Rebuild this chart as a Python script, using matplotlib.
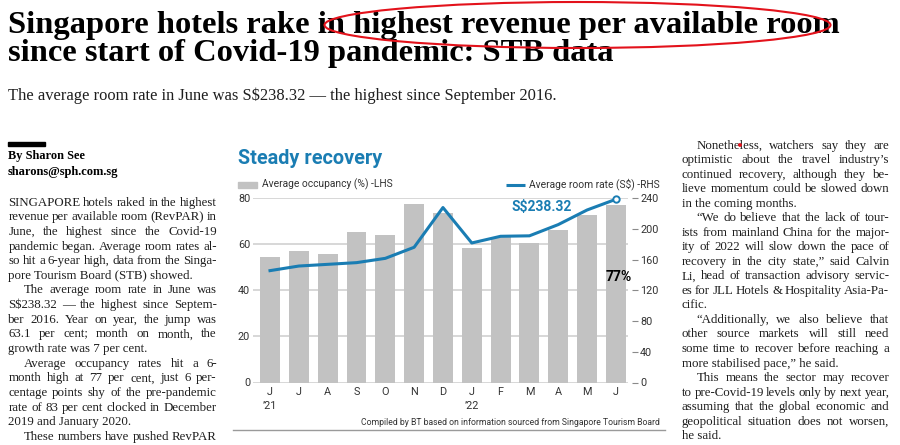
import numpy as np
import matplotlib
matplotlib.use('Agg')
import matplotlib.pyplot as plt
import matplotlib.transforms as mtransforms
from matplotlib.patches import Rectangle, Ellipse, Circle
from matplotlib.lines import Line2D
from matplotlib import font_manager as fm

# ── Chart data ───────────────────────────────────────────────
months = ['J', 'J', 'A', 'S', 'O', 'N', 'D', 'J', 'F', 'M', 'A', 'M', 'J']
year_marks = ['\u201921', '', '', '', '', '', '', '\u201922', '', '', '', '', '']
occupancy = [54.6, 56.9, 55.7, 65.1, 64.1, 77.6, 73.7, 58.3, 63.0, 60.4, 66.3, 72.6, 77.0]
room_rate = [145.5, 151.5, 153.7, 155.9, 161.5, 175.9, 227.6, 181.5, 190.2, 190.8, 205.4, 224.4, 238.32]
occ_ticks = [0, 20, 40, 60, 80]
rate_ticks = [0, 40, 80, 120, 160, 200, 240]

# ── Page text ────────────────────────────────────────────────
headline = ['Singapore hotels rake in highest revenue per available room',
            'since start of Covid-19 pandemic: STB data']
standfirst = 'The average room rate in June was S$238.32 \u2014 the highest since September 2016.'

left_lines = [
    ('SINGAPORE hotels raked in the highest', 0, True),
    ('revenue per available room (RevPAR) in', 0, True),
    ('June, the highest since the Covid-19', 0, True),
    ('pandemic began. Average room rates al-', 0, True),
    ('so hit a 6-year high, data from the Singa-', 0, True),
    ('pore Tourism Board (STB) showed.', 0, False),
    ('The average room rate in June was', 1, True),
    ('S$238.32 \u2014 the highest since Septem-', 0, True),
    ('ber 2016. Year on year, the jump was', 0, True),
    ('63.1 per cent; month on month, the', 0, True),
    ('growth rate was 7 per cent.', 0, False),
    ('Average occupancy rates hit a 6-', 1, True),
    ('month high at 77 per cent, just 6 per-', 0, True),
    ('centage points shy of the pre-pandemic', 0, True),
    ('rate of 83 per cent clocked in December', 0, True),
    ('2019 and January 2020.', 0, False),
    ('These numbers have pushed RevPAR', 1, True),
]
right_lines = [
    ('Nonetheless, watchers say they are', 1, True),
    ('optimistic about the travel industry\u2019s', 0, True),
    ('continued recovery, although they be-', 0, True),
    ('lieve momentum could be slowed down', 0, True),
    ('in the coming months.', 0, False),
    ('\u201cWe do believe that the lack of tour-', 1, True),
    ('ists from mainland China for the major-', 0, True),
    ('ity of 2022 will slow down the pace of', 0, True),
    ('recovery in the city state,\u201d said Calvin', 0, True),
    ('Li, head of transaction advisory servic-', 0, True),
    ('es for JLL Hotels & Hospitality Asia-Pa-', 0, True),
    ('cific.', 0, False),
    ('\u201cAdditionally, we also believe that', 1, True),
    ('other source markets will still need', 0, True),
    ('some time to recover before reaching a', 0, True),
    ('more stabilised pace,\u201d he said.', 0, False),
    ('This means the sector may recover', 1, True),
    ('to pre-Covid-19 levels only by next year,', 0, True),
    ('assuming that the global economic and', 0, True),
    ('geopolitical situation does not worsen,', 0, True),
    ('he said.', 0, False),
]

# ── Style ────────────────────────────────────────────────────
BLUE = '#1a7db3'
BAR_GREY = '#c2c2c2'
GRID = '#cdcdcd'
INK = '#1e1e1e'
AXIS_TXT = '#333333'
RED = '#e3121b'
SANS = 'Roboto'
SERIF = 'Liberation Serif'

W, H = 900, 445
fig = plt.figure(figsize=(W / 100, H / 100), dpi=100)
fig.patch.set_facecolor('white')
# pixel coordinates measured from the top-left corner
PX = mtransforms.Affine2D().scale(1 / W, -1 / H).translate(0, 1) + fig.transFigure
renderer = fig.canvas.get_renderer()

HEAD = fm.FontProperties(family=SERIF, weight='bold')
BODY = fm.FontProperties(family=SERIF, weight='normal')


def ptext(x, y, s, **kw):
    kw.setdefault('parse_math', False)
    if 'fontproperties' in kw:
        kw['fontproperties'] = kw['fontproperties'].copy()
    return fig.text(x, y, s, transform=PX, **kw)


def fit(t, width):
    w = t.get_window_extent(renderer).width
    t.set_fontsize(t.get_fontsize() * width / w)
    return t.get_fontsize()


def width_of(s, props, size):
    t = ptext(0, 0, s, fontproperties=props, fontsize=size)
    w = t.get_window_extent(renderer).width
    t.remove()
    return w


def body_size(lines, colw, indent, props, size, min_gap=2.2):
    # shrink the body size until every justified line fits its column
    scale = 1.0
    for s, ind, just in lines:
        words = s.split(' ')
        if not just or len(words) < 2:
            continue
        ww = sum(width_of(w_, props, size) for w_ in words)
        room = colw - indent * ind - (len(words) - 1) * min_gap
        scale = min(scale, room / ww)
    return size * scale


def column(lines, x0, x1, y0, step, indent, **kw):
    # justified newspaper column, one text per word on full lines
    for i, (s, ind, just) in enumerate(lines):
        y = y0 + i * step
        xs = x0 + indent * ind
        words = s.split(' ')
        if not just or len(words) < 2:
            ptext(xs, y, s, va='center', **kw)
            continue
        arts = [ptext(0, y, w_, va='center', **kw) for w_ in words]
        widths = [a.get_window_extent(renderer).width for a in arts]
        gap = max((x1 - xs - sum(widths)) / (len(words) - 1), 1.5)
        xc = xs
        for a, w_ in zip(arts, widths):
            a.set_x(xc)
            xc += w_ + gap


# ── Headline ────────────────────────────────────────────────
h1 = ptext(8, 33, headline[0], va='baseline', color='black', fontproperties=HEAD)
hsize = fit(h1, 835)
h2 = ptext(8, 61, headline[1], va='baseline', color='black', fontproperties=HEAD)
h2.set_fontsize(hsize)
sf = ptext(8, 100, standfirst, va='baseline', color=INK, fontproperties=BODY, fontsize=11)
fit(sf, 547)

fig.add_artist(Ellipse((577.5, 25), 506, 46, transform=PX, fill=False,
                       edgecolor=RED, lw=1.5, zorder=10))
fig.add_artist(Circle((740, 145), 1.2, transform=PX, color=RED, zorder=10))

# ── Byline and text columns ─────────────────────────────────
fig.add_artist(Rectangle((8, 142), 37, 4, transform=PX, color='black'))
b1 = ptext(8, 156, 'By Sharon See', va='center', fontproperties=HEAD, fontsize=9, color='black')
fit(b1, 77)
b2 = ptext(8, 171.7, 'sharons@sph.com.sg', va='center', fontproperties=HEAD, fontsize=9, color='black')
fit(b2, 111)

bsize = min(body_size(left_lines, 208.4, 15.5, BODY, 9.3),
            body_size(right_lines, 207.6, 15.0, BODY, 9.3))
body = dict(fontproperties=BODY, fontsize=bsize, color=INK)
column(left_lines, 8.3, 216.7, 202.7, 14.63, 15.5, **body)
column(right_lines, 681.7, 889.3, 145.7, 14.52, 15.0, **body)

# ── Chart ───────────────────────────────────────────────────
ttl = ptext(238, 163.5, 'Steady recovery', va='baseline', family=SANS, weight='bold',
            fontsize=13, color=BLUE)
fit(ttl, 144)

fig.add_artist(Rectangle((238.3, 181.7), 18.4, 5.8, transform=PX, color=BAR_GREY))
lg1 = ptext(262.3, 184.6, 'Average occupancy (%) -LHS', va='center', family=SANS,
            fontsize=7.5, color=AXIS_TXT)
fit(lg1, 130)
fig.add_artist(Line2D([506, 525], [184.5, 184.5], transform=PX, color=BLUE, lw=2.2,
                      solid_capstyle='butt'))
lg2 = ptext(529, 184.6, 'Average room rate (S$) -RHS', va='center', family=SANS,
            fontsize=7.5, color=AXIS_TXT)
fit(lg2, 131)

ax = fig.add_axes([253 / W, 1 - 382.5 / H, 375 / W, 184.5 / H])
x = np.arange(len(months))
ax.bar(x, occupancy, width=0.69, color=BAR_GREY, zorder=2)
ax.set_xlim(-0.59, 12.42)
ax.set_ylim(0, 80)
ax.set_yticks(occ_ticks)
ax.set_xticks(x, months)
ax.grid(axis='y', color=GRID, lw=1.1)
ax.set_axisbelow(True)
for s in ax.spines.values():
    s.set_visible(False)
ax.tick_params(axis='y', length=0, pad=2, labelsize=7.8, labelcolor=AXIS_TXT)
ax.tick_params(axis='x', length=0, pad=3.5, labelsize=7.8, labelcolor=AXIS_TXT)
for lab in ax.get_xticklabels() + ax.get_yticklabels():
    lab.set_family(SANS)
for i, yr in enumerate(year_marks):
    if yr:
        ax.text(i, -0.128, yr, transform=ax.get_xaxis_transform(), ha='center', va='center',
                family=SANS, fontsize=7.8, color=AXIS_TXT)
ax.annotate(f'{occupancy[-1]:.0f}%', (x[-1], occupancy[-1]), xytext=(2.5, -72.4),
            textcoords='offset pixels', ha='center', va='center', family=SANS,
            weight='bold', fontsize=10, color='black', zorder=5)

ax2 = ax.twinx()
ax2.plot(x, room_rate, color=BLUE, lw=2.2, zorder=3)
ax2.plot(x[-1], room_rate[-1], 'o', ms=4.6, mfc='white', mec=BLUE, mew=1.4,
         clip_on=False, zorder=4)
ax2.set_ylim(0, 240)
ax2.set_yticks(rate_ticks)
for s in ax2.spines.values():
    s.set_visible(False)
ax2.spines['right'].set_position(('outward', 3))
ax2.tick_params(axis='y', length=4.3, width=0.8, color='#8a8a8a', pad=1.5,
                labelsize=7.8, labelcolor=AXIS_TXT)
for lab in ax2.get_yticklabels():
    lab.set_family(SANS)
ax2.annotate(f'S${room_rate[-1]:.2f}', (x[-1], room_rate[-1]), xytext=(-74.5, -7.5),
             textcoords='offset pixels', ha='center', va='center', family=SANS,
             weight='bold', fontsize=10, color=BLUE, parse_math=False)

src = ptext(660, 422.3, 'Compiled by BT based on information sourced from Singapore Tourism Board',
            ha='right', va='center', family=SANS, fontsize=6.3, color=AXIS_TXT)
fit(src, 298)
fig.add_artist(Line2D([233, 665], [430, 430], transform=PX, color='#9a9a9a', lw=1.0))

fig.savefig('out.png', dpi=100, facecolor='white')
